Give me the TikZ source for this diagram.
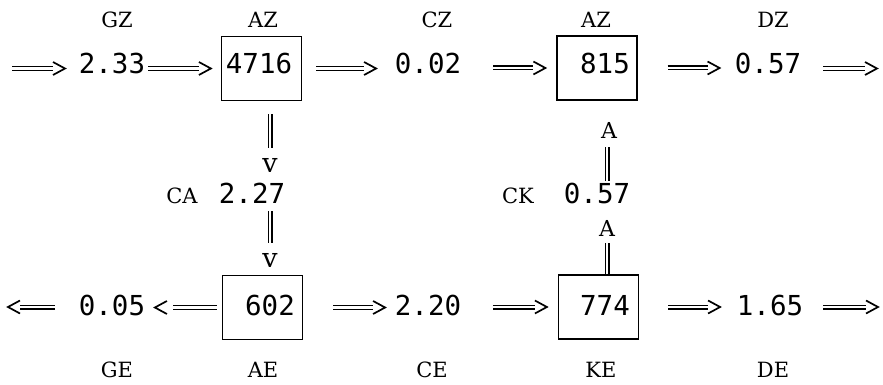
\documentclass[tikz,border=0pt]{standalone}
\usepackage{fontspec}
\newfontfamily\numfont{DejaVu Sans Mono}
\newfontfamily\labfont{DejaVu Serif}
\usetikzlibrary{calc}
\tikzset{
  lab/.style={anchor=base, inner sep=0pt, font=\labfont\fontsize{21}{21}\selectfont},
  num/.style={anchor=base, inner sep=0pt, font=\numfont\fontsize{27.5}{28}\selectfont},
  atip/.style={anchor=base, inner sep=0pt, font=\labfont\fontsize{22}{22}\selectfont},
  vtip/.style={anchor=base, inner sep=0pt, font=\labfont\fontsize{27}{27}\selectfont},
  box/.style={draw, line width=1.2pt, minimum width=80pt, minimum height=64pt, inner sep=0pt},
  dbl/.style={double, double distance=2.8pt, line width=1.1pt},
  chev/.style={line width=1.7pt, line join=miter},
}
\newcommand\rchev[1]{\draw[chev] ($(#1)+(0,-6.5)$) -- ($(#1)+(12,0)$) -- ($(#1)+(0,6.5)$);}
\newcommand\lchev[1]{\draw[chev] ($(#1)+(0,-6.5)$) -- ($(#1)+(-12,0)$) -- ($(#1)+(0,6.5)$);}
\begin{document}
\begin{tikzpicture}[x=1pt,y=-1pt]
\fill[white] (0,0) rectangle (883,385);
\useasboundingbox (0,0) rectangle (883,385);
% top labels
\node[lab] (gz)  at (117,28) {GZ};
\node[lab] (az1) at (263,28) {AZ};
\node[lab] (cz)  at (437,28) {CZ};
\node[lab] (az2) at (596,28) {AZ};
\node[lab] (dz)  at (773,28) {DZ};
% top row
\node[box] (b1) at (261.5,68.5) {};
\node[box] (b2) at (597,68) {};
\node[num] (n233)  at (112,74) {2.33};
\node[num] (n4716) at (259,74) {4716};
\node[num] (n002)  at (428,74) {0.02};
\node[num] (n815)  at (605,74) {815};
\node[num] (n057)  at (768,74) {0.57};
\coordinate (inL) at (12,68.5);
\coordinate (outR) at (865,68.5);
\draw[dbl] (inL) -- ($(inL)+(41,0)$) coordinate (t0); \rchev{t0}
\draw[dbl] ($(n233.east |- b1.west)+(3,0)$) -- ($(b1.west)+(-22,0)$) coordinate (t1); \rchev{t1}
\draw[dbl] ($(b1.east)+(14,0)$) -- ($(b1.east)+(62,0)$) coordinate (t2); \rchev{t2}
\draw[dbl] ($(b2.west)+(-63,0)$) -- ($(b2.west)+(-23,0)$) coordinate (t3); \rchev{t3}
\draw[dbl] ($(b2.east)+(30,0)$) -- ($(b2.east)+(70,0)$) coordinate (t4); \rchev{t4}
\draw[dbl] ($(outR)+(-42,0)$) -- (outR); \rchev{outR}
% middle
\node[vtip] (v1) at (270,172) {v};
\node[vtip] (v2) at (270,267) {v};
\node[lab] (ca) at (182,203) {CA};
\node[num] (n227) at (252,203) {2.27};
\node[lab] (ck) at (518,203) {CK};
\node[num] (n057m) at (597,203) {0.57};
\node[atip] (A1) at (609,139) {A};
\node[atip] (A2) at (607,236) {A};
% bottom row
\node[box] (bAE) at (262.5,307.5) {};
\node[box] (bKE) at (598.5,307) {};
\node[num] (n005) at (112,315) {0.05};
\node[num] (n602) at (270,315) {602};
\node[num] (n220) at (428,315) {2.20};
\node[num] (n774) at (605,315) {774};
\node[num] (n165) at (770,315) {1.65};
% vertical connectors
\draw[dbl] ($(b1.south -| v1)+(0,13)$) -- ($(v1.base)+(0,-24)$);
\draw[dbl] ($(v1.base)+(0,39)$) -- ($(v2.base)+(0,-24)$);
\draw[dbl] ($(n057m.base)+(10,-22)$) -- ($(A1.base)+(-2,8)$);
\draw[dbl] (bKE.north -| A2) -- ($(A2.base)+(0,7)$);
% bottom arrows
\coordinate (outL) at (20,307);
\coordinate (outR2) at (866,307);
\draw[dbl] ($(outL)+(35,0)$) -- (outL); \lchev{outL}
\draw[dbl] ($(bAE.west)+(-5,0)$) -- ($(bAE.west)+(-49,0)$) coordinate (u1);
\coordinate (u1c) at ($(u1)+(-6,0)$); \lchev{u1c}
\draw[dbl] ($(bAE.east)+(30,0)$) -- ($(bAE.east)+(70,0)$) coordinate (u2); \rchev{u2}
\draw[dbl] ($(bKE.west)+(-65,0)$) -- ($(bKE.west)+(-23,0)$) coordinate (u3); \rchev{u3}
\draw[dbl] ($(bKE.east)+(29,0)$) -- ($(bKE.east)+(69,0)$) coordinate (u4); \rchev{u4}
\draw[dbl] ($(outR2)+(-43,0)$) -- (outR2); \rchev{outR2}
% bottom labels
\node[lab] (ge) at (117,377) {GE};
\node[lab] (ae) at (263,377) {AE};
\node[lab] (ce) at (432,377) {CE};
\node[lab] (ke) at (601,377) {KE};
\node[lab] (de) at (773,377) {DE};
\end{tikzpicture}
\end{document}
